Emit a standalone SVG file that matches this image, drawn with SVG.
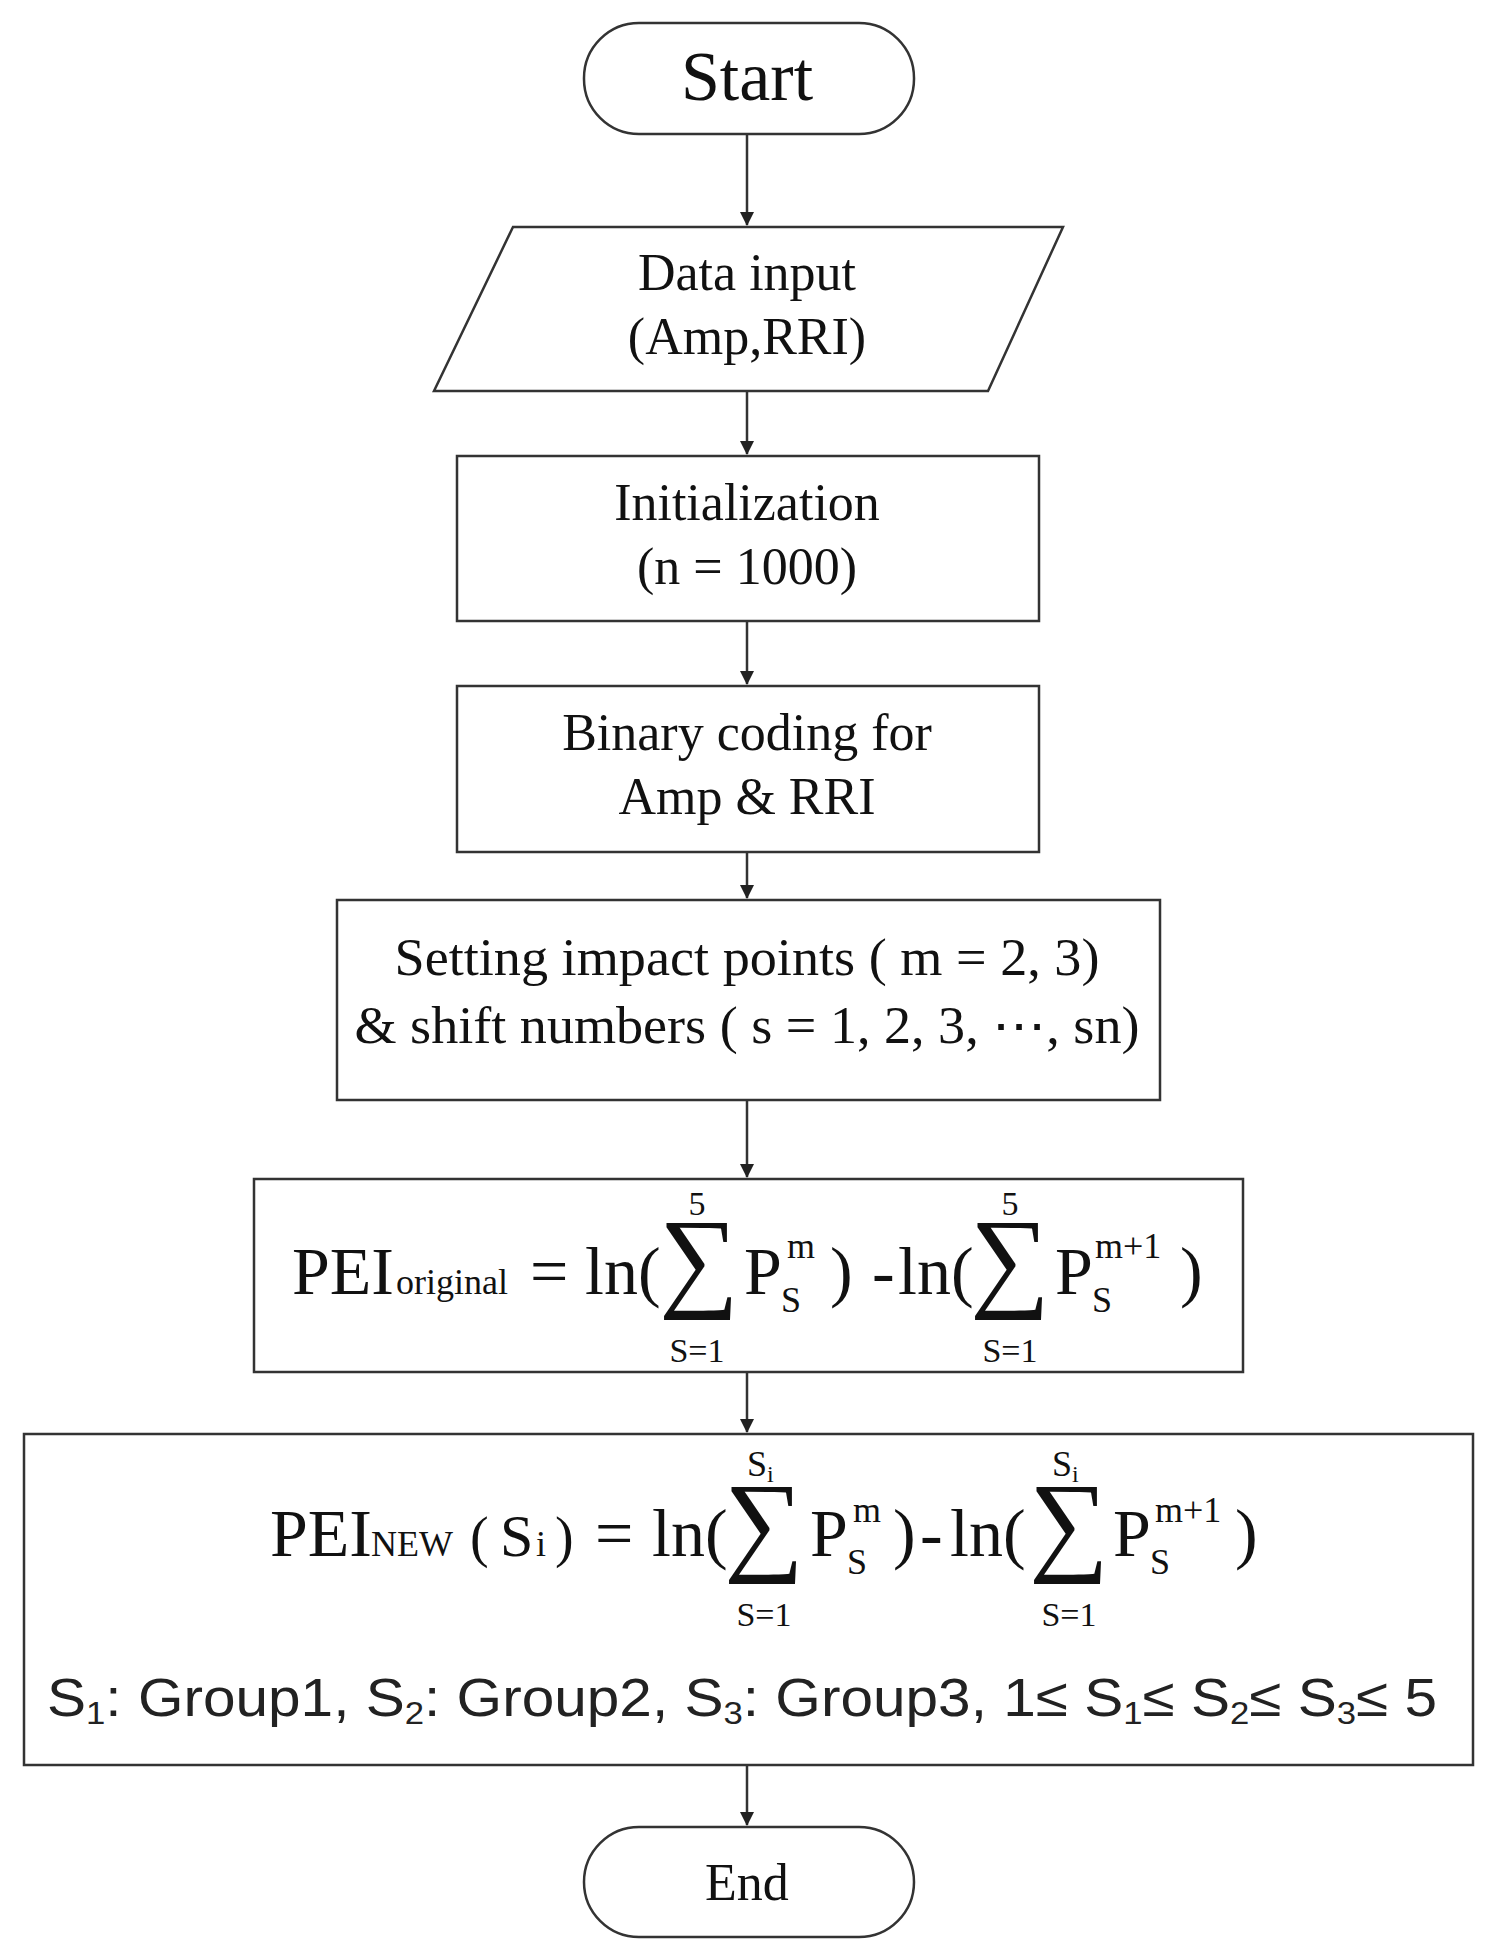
<svg xmlns="http://www.w3.org/2000/svg" width="1492" height="1950" viewBox="0 0 1492 1950">
<style>
.s{fill:#fff;stroke:#333;stroke-width:2.5}
.t{font-family:"Liberation Serif",serif;fill:#111;text-anchor:middle}
.f{font-family:"Liberation Serif",serif;fill:#111}
.c{stroke:#333;stroke-width:2.5;fill:none}
</style>
<defs><marker id="a" markerWidth="14" markerHeight="14" refX="13" refY="7" orient="auto" markerUnits="userSpaceOnUse" viewBox="0 0 14 14"><path d="M0,0L14,7L0,14Z" fill="#222"/></marker></defs>
<rect width="1492" height="1950" fill="#fff"/>
<g id="connectors">
<line class="c" x1="747" y1="134" x2="747" y2="225" marker-end="url(#a)"/>
<line class="c" x1="747" y1="391" x2="747" y2="454" marker-end="url(#a)"/>
<line class="c" x1="747" y1="621" x2="747" y2="684" marker-end="url(#a)"/>
<line class="c" x1="747" y1="852" x2="747" y2="898" marker-end="url(#a)"/>
<line class="c" x1="747" y1="1100" x2="747" y2="1177" marker-end="url(#a)"/>
<line class="c" x1="747" y1="1372" x2="747" y2="1432" marker-end="url(#a)"/>
<line class="c" x1="747" y1="1765" x2="747" y2="1825" marker-end="url(#a)"/>
</g>
<g id="start"><rect class="s" x="584" y="23" width="330" height="111" rx="55"/><text class="t" x="747" y="100" font-size="70">Start</text></g>
<g id="data"><polygon class="s" points="513,227 1063,227 988,391 434,391"/><text class="t" x="747" y="290" font-size="52">Data input</text><text class="t" x="747" y="354" font-size="52">(Amp,RRI)</text></g>
<g id="init"><rect class="s" x="457" y="456" width="582" height="165"/><text class="t" x="747" y="520" font-size="52">Initialization</text><text class="t" x="747" y="584" font-size="52">(n = 1000)</text></g>
<g id="binary"><rect class="s" x="457" y="686" width="582" height="166"/><text class="t" x="747" y="750" font-size="52">Binary coding for</text><text class="t" x="747" y="814" font-size="52">Amp &amp; RRI</text></g>
<g id="setting"><rect class="s" x="337" y="900" width="823" height="200"/><text class="t" x="747" y="975" font-size="52" textLength="705" lengthAdjust="spacingAndGlyphs">Setting impact points ( m = 2, 3)</text><text class="t" x="747" y="1043" font-size="52" textLength="785" lengthAdjust="spacingAndGlyphs">&amp; shift numbers ( s = 1, 2, 3, ⋯, sn)</text></g>
<g id="pei-original"><rect class="s" x="254" y="1179" width="989" height="193"/>
<text class="f" x="292" y="1294" font-size="68">PEI</text>
<text class="f" x="396" y="1294" font-size="36">original</text>
<text class="f" x="530" y="1294" font-size="68">=</text>
<text class="f" x="585" y="1294" font-size="68">ln(</text>
<text class="t" x="699" y="1296" font-size="112">∑</text>
<text class="t" x="697" y="1215" font-size="34">5</text>
<text class="t" x="697" y="1362" font-size="34">S=1</text>
<text class="f" x="744" y="1294" font-size="68">P</text>
<text class="f" x="787" y="1258" font-size="36">m</text>
<text class="f" x="781" y="1312" font-size="36">S</text>
<text class="f" x="830" y="1294" font-size="68">)</text>
<text class="f" x="872" y="1294" font-size="68">-</text>
<text class="f" x="898" y="1294" font-size="68">ln(</text>
<text class="t" x="1010" y="1296" font-size="112">∑</text>
<text class="t" x="1010" y="1215" font-size="34">5</text>
<text class="t" x="1010" y="1362" font-size="34">S=1</text>
<text class="f" x="1055" y="1294" font-size="68">P</text>
<text class="f" x="1095" y="1258" font-size="36">m+1</text>
<text class="f" x="1092" y="1312" font-size="36">S</text>
<text class="f" x="1180" y="1294" font-size="68">)</text>
</g>
<g id="pei-new"><rect class="s" x="24" y="1434" width="1449" height="331"/>
<text class="f" x="270" y="1556" font-size="68">PEI</text>
<text class="f" x="371" y="1556" font-size="36">NEW</text>
<text class="f" x="470" y="1556" font-size="56">(</text>
<text class="f" x="500" y="1556" font-size="60">S</text>
<text class="f" x="536" y="1556" font-size="36">i</text>
<text class="f" x="555" y="1556" font-size="56">)</text>
<text class="f" x="595" y="1556" font-size="68">=</text>
<text class="f" x="652" y="1556" font-size="68">ln(</text>
<text class="t" x="764" y="1560" font-size="112">∑</text>
<text class="f" x="747" y="1476" font-size="36">S<tspan font-size="24" dy="6">i</tspan></text>
<text class="t" x="764" y="1626" font-size="34">S=1</text>
<text class="f" x="810" y="1556" font-size="68">P</text>
<text class="f" x="853" y="1522" font-size="36">m</text>
<text class="f" x="847" y="1574" font-size="36">S</text>
<text class="f" x="893" y="1556" font-size="68">)</text>
<text class="f" x="920" y="1556" font-size="68">-</text>
<text class="f" x="950" y="1556" font-size="68">ln(</text>
<text class="t" x="1069" y="1560" font-size="112">∑</text>
<text class="f" x="1052" y="1476" font-size="36">S<tspan font-size="24" dy="6">i</tspan></text>
<text class="t" x="1069" y="1626" font-size="34">S=1</text>
<text class="f" x="1113" y="1556" font-size="68">P</text>
<text class="f" x="1155" y="1522" font-size="36">m+1</text>
<text class="f" x="1150" y="1574" font-size="36">S</text>
<text class="f" x="1235" y="1556" font-size="68">)</text>
<text x="47" y="1716" font-family="Liberation Sans,sans-serif" font-size="54" fill="#222" textLength="1390" lengthAdjust="spacingAndGlyphs">S<tspan font-size="32" dy="8">1</tspan><tspan dy="-8">: Group1, S</tspan><tspan font-size="32" dy="8">2</tspan><tspan dy="-8">: Group2, S</tspan><tspan font-size="32" dy="8">3</tspan><tspan dy="-8">: Group3, 1≤ S</tspan><tspan font-size="32" dy="8">1</tspan><tspan dy="-8">≤ S</tspan><tspan font-size="32" dy="8">2</tspan><tspan dy="-8">≤ S</tspan><tspan font-size="32" dy="8">3</tspan><tspan dy="-8">≤ 5</tspan></text>
</g>
<g id="end"><rect class="s" x="584" y="1827" width="330" height="110" rx="55"/><text class="t" x="747" y="1900" font-size="52">End</text></g>
</svg>
